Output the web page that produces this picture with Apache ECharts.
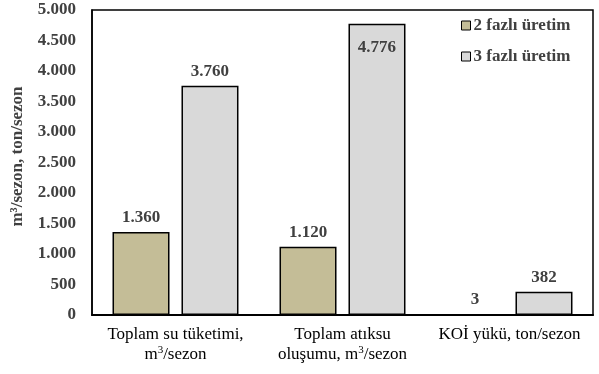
<!DOCTYPE html>
<html><head><meta charset="utf-8">
<script src="https://cdn.jsdelivr.net/npm/echarts@6/dist/echarts.min.js"></script>
<style>html,body{margin:0;padding:0;background:#fff}#c{width:599px;height:374px}</style>
</head><body><div id="c"></div>
<script>
var categories = ['Toplam su tüketimi,\n{n|m}{sup|3}{n|/sezon}', 'Toplam atıksu\n{n|oluşumu, m}{sup|3}{n|/sezon}', 'KOİ yükü, ton/sezon'];
var seriesNames = ['2 fazlı üretim', '3 fazlı üretim'];
var twoPhase = [1360, 1120, 3];
var threePhase = [3760, 4776, 382];
var yTicks = [0, 500, 1000, 1500, 2000, 2500, 3000, 3500, 4000, 4500, 5000];

function fmt(v){ return String(v).replace(/\B(?=(\d{3})+(?!\d))/g, '.'); }
var font = '"Liberation Serif","Times New Roman",serif';
var chart = echarts.init(document.getElementById('c'), null, {renderer:'canvas'});
var lbl = {show:true, position:'top', distance:6, fontFamily:font, fontWeight:'bold', fontSize:17, color:'#404040', formatter:function(p){return fmt(p.value);}};
function toData(arr){
  return arr.map(function(v){
    if (v > 4500) return {value:v, label:{position:'insideTop', distance:15}};
    return v;
  });
}
chart.setOption({
  animation:false,
  grid:{left:92, right:6, top:10, bottom:59, show:true, borderColor:'#000', borderWidth:1.5, backgroundColor:'transparent'},
  legend:{orient:'vertical', left:456, top:12, itemWidth:9, itemHeight:9, itemGap:14,
    textStyle:{fontFamily:font, fontWeight:'bold', fontSize:17, color:'#404040', padding:[0,0,0,-2]}, icon:'rect',
    itemStyle:{borderColor:'#000', borderWidth:1},
    data:seriesNames},
  xAxis:{type:'category', data:categories, axisTick:{show:false},
    axisLine:{lineStyle:{color:'#000', width:2}},
    axisLabel:{fontFamily:font, fontSize:17, color:'#000', margin:10, lineHeight:20, interval:0,
      rich:{n:{fontFamily:font, fontSize:17, color:'#000', lineHeight:20}, sup:{fontFamily:font, fontSize:11, color:'#000', verticalAlign:'top', lineHeight:20, padding:[0,0,7,0]}}}},
  yAxis:{type:'value', min:0, max:5000, interval:500, splitLine:{show:false},
    axisLine:{show:true, lineStyle:{color:'#000', width:1.5}}, axisTick:{show:false},
    name:'m³/sezon, ton/sezon', nameLocation:'middle', nameGap:66,
    nameTextStyle:{fontFamily:font, fontWeight:'bold', fontSize:17, color:'#404040', padding:[0,0,0,12]},
    axisLabel:{fontFamily:font, fontWeight:'bold', fontSize:17, color:'#404040', margin:16, formatter:function(v){return fmt(v);}}},
  series:[
    {name:seriesNames[0], type:'bar', data:toData(twoPhase), barWidth:57, barGap:'21%',
      itemStyle:{color:'#C4BD97', borderColor:'#000', borderWidth:1.5}, label:lbl},
    {name:seriesNames[1], type:'bar', data:toData(threePhase), barWidth:57,
      itemStyle:{color:'#D9D9D9', borderColor:'#000', borderWidth:1.5}, label:lbl}
  ]
});
</script></body></html>
